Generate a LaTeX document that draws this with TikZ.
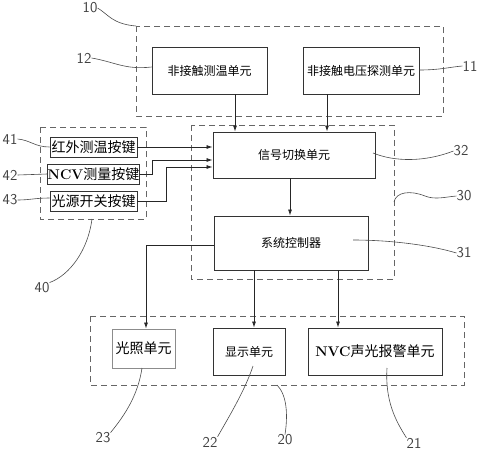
\documentclass[tikz,border=0pt]{standalone}
\usepackage{fontspec}
\newfontfamily\cjk{Noto Sans CJK SC}
\newfontfamily\numfont{DejaVu Sans}[Scale=1]
\usetikzlibrary{arrows.meta}
\begin{document}
\begin{tikzpicture}[x=1pt,y=-1pt,
  box/.style={draw=black!80,line width=0.9pt,inner sep=0pt,font=\cjk\fontsize{12}{12}\selectfont},
  btn/.style={box,font=\cjk\fontsize{14}{14}\selectfont},
  grp/.style={draw=black!60,line width=0.9pt,dash pattern=on 6pt off 4pt},
  arr/.style={draw=black!85,line width=0.8pt,-{Latex[length=6pt,width=4pt]}},
  lead/.style={draw=black!70,line width=0.6pt},
  num/.style={font=\fontfamily{lmss}\selectfont\fontsize{15}{15}\selectfont,text=black!75,inner sep=0pt}]
\useasboundingbox (0,0) rectangle (478,450);
\fill[white] (0,0) rectangle (478,450);
% groups
\draw[grp] (136,26) rectangle (443,116);
\draw[grp] (40,127) rectangle (146,219);
\draw[grp] (191,125) rectangle (394,279);
\draw[grp] (90,316) rectangle (464,385);
% boxes
\node[box,minimum width=115pt,minimum height=47pt] (b12) at (209.5,70.5) {非接触测温单元};
\node[box,minimum width=116pt,minimum height=47pt] (b11) at (361,70.5) {非接触电压探测单元};
\node[btn,minimum width=87pt,minimum height=20pt] (b41) at (93.5,147) {红外测温按键};
\node[btn,minimum width=87pt,minimum height=20pt] (b42) at (93.5,174) {{\rmfamily\bfseries NCV}测量按键};
\node[btn,minimum width=87pt,minimum height=20pt] (b43) at (93.5,201) {光源开关按键};
\node[box,minimum width=162pt,minimum height=46pt] (b32) at (294,155) {信号切换单元};
\node[box,minimum width=154pt,minimum height=54pt] (b31) at (291,243) {系统控制器};
\node[box,draw=black!45,font=\cjk\fontsize{14}{14}\selectfont,minimum width=63pt,minimum height=39pt] (b23) at (143.5,348.5) {光照单元};
\node[box,minimum width=72pt,minimum height=47pt] (b22) at (249,351.5) {显示单元};
\node[box,font=\cjk\fontsize{14}{14}\selectfont,minimum width=134pt,minimum height=47pt] (b21) at (375,351.5) {{\rmfamily\bfseries NVC}声光报警单元};
% arrows
\draw[arr] (b12.south -| 235,0) -- (b32.north -| 235,0);
\draw[arr] (b11.south -| 327,0) -- (b32.north -| 327,0);
\draw[arr] (b41.east) -- (b32.west |- b41.east);
\coordinate (j42a) at (152,174);
\coordinate (j42b) at (152,160);
\draw[arr] (b42.east) -- (j42a) -- (j42b) -- (b32.west |- j42b);
\coordinate (j43a) at (166,201);
\coordinate (j43b) at (166,167);
\draw[arr] (b43.east) -- (j43a) -- (j43b) -- (b32.west |- j43b);
\draw[arr] (b32.south -| 290,0) -- (b31.north -| 290,0);
\coordinate (j23) at (146,245);
\draw[arr] (b31.west |- j23) -- (j23) -- (j23 |- b23.north);
\draw[arr] (b31.south -| 254,0) -- (b22.north -| 254,0);
\draw[arr] (b31.south -| 338,0) -- (b21.north -| 338,0);
% labels
\node[num] (n10) at (90,8) {10};
\node[num] (n12) at (84,58) {12};
\node[num] (n11) at (470,66) {11};
\node[num] (n41) at (10,139) {41};
\node[num] (n42) at (10,175) {42};
\node[num] (n43) at (10,200) {43};
\node[num] (n32) at (461,151) {32};
\node[num] (n30) at (464,196) {30};
\node[num] (n31) at (464,253) {31};
\node[num] (n40) at (42,288) {40};
\node[num] (n23) at (103,438) {23};
\node[num] (n22) at (210,442) {22};
\node[num] (n20) at (285,440) {20};
\node[num] (n21) at (414,443) {21};
% leaders
\draw[lead] (n10.east) .. controls (108,14) and (112,24) .. (136,26);
\draw[lead] (n12.east) .. controls (115,62) and (125,70) .. (b12.west |- 0,67);
\draw[lead] (b11.east |- 0,70) .. controls (440,70) and (450,67) .. (n11.west);
\draw[lead] (n41.east) .. controls (30,140) and (35,147) .. (b41.west);
\draw[lead] (n42.east) -- (b42.west);
\draw[lead] (n43.east) .. controls (30,200) and (35,198) .. (b43.west |- 0,198);
\coordinate (l32) at (373,153);
\draw[lead] (l32) .. controls (395,162) and (425,162) .. (n32.west);
\coordinate (l30) at (394,202);
\draw[lead] (l30) .. controls (396,192) and (410,190) .. (425,196) .. controls (435,200) and (445,197) .. (n30.west);
\coordinate (l31) at (353,240);
\draw[lead] (l31) .. controls (390,240) and (430,245) .. (n31.west);
\coordinate (l40) at (92,219);
\draw[lead] (l40) .. controls (88,250) and (70,275) .. (n40.north east);
\coordinate (l23) at (142,368);
\draw[lead] (l23) .. controls (138,395) and (125,415) .. (n23.north east);
\coordinate (l22) at (253,366);
\draw[lead] (l22) .. controls (245,390) and (230,415) .. (n22.north east);
\coordinate (l20) at (277,385);
\draw[lead] (l20) .. controls (287,395) and (288,415) .. (n20.north);
\coordinate (l21) at (387,368);
\draw[lead] (l21) .. controls (385,400) and (395,420) .. (n21.north west);
\end{tikzpicture}
\end{document}
